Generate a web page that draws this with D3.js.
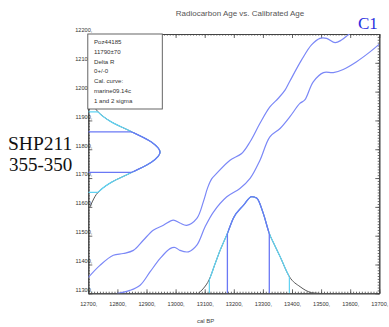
<!DOCTYPE html>
<html>
<head>
<meta charset="utf-8">
<script src="https://cdn.jsdelivr.net/npm/d3@7/dist/d3.min.js"></script>
<style>
  html, body { margin: 0; padding: 0; background: #fff; }
  svg { display: block; }
</style>
</head>
<body>
<svg id="chart" width="389" height="327"></svg>
<script>
// ---------- data ----------
const xTicks = [12700, 12800, 12900, 13000, 13100, 13200, 13300, 13400, 13500, 13600, 13700];
const yTicks = [11300, 11400, 11500, 11600, 11700, 11800, 11900, 12000, 12100, 12200];

// calibration curve, upper band edge (cal BP, 14C BP)
const upperCal = [12700, 12740, 12786, 12820, 12855, 12889, 12923, 12958, 12992, 13015, 13038, 13073, 13096, 13110, 13124, 13141, 13187, 13227, 13256, 13290, 13324, 13353, 13376, 13392, 13433, 13467, 13496, 13519, 13548, 13570, 13593, 13613];
const upperC14 = [11355, 11397, 11432, 11438, 11449, 11484, 11519, 11536, 11554, 11544, 11536, 11560, 11620, 11666, 11697, 11716, 11762, 11785, 11826, 11890, 11947, 11977, 12005, 12035, 12110, 12162, 12185, 12185, 12170, 12179, 12197, 12214];
// calibration curve, lower band edge
const lowerCal = [12798, 12843, 12878, 12912, 12947, 12981, 12998, 13015, 13044, 13073, 13101, 13130, 13176, 13221, 13256, 13290, 13324, 13359, 13393, 13427, 13444, 13473, 13508, 13542, 13576, 13622, 13668, 13700];
const lowerC14 = [11299, 11310, 11328, 11374, 11421, 11455, 11459, 11449, 11444, 11467, 11530, 11582, 11635, 11664, 11699, 11762, 11843, 11872, 11913, 11959, 11971, 12034, 12066, 12066, 12077, 12104, 12138, 12165];

// calibrated probability (relative) on the cal BP axis
const probCal = [13078, 13094, 13116, 13135, 13153, 13178, 13198, 13233, 13262, 13279, 13301, 13322, 13340, 13359, 13391, 13428, 13468, 13490];
const probVal = [0.0, 0.045, 0.145, 0.30, 0.445, 0.62, 0.775, 0.91, 1.0, 0.985, 0.83, 0.62, 0.5, 0.38, 0.172, 0.068, 0.006, 0.0];
const oneSigmaCal = [13178, 13322];
const twoSigmaCal = [13116, 13391];

// radiocarbon age distribution (relative) on the 14C axis
const ageC14 = [11600, 11620, 11650, 11685, 11720, 11755, 11790, 11825, 11860, 11895, 11930, 11960, 11990, 12020];
const ageVal = [0.025, 0.06, 0.135, 0.32, 0.61, 0.88, 1.0, 0.88, 0.61, 0.32, 0.135, 0.06, 0.02, 0.005];
const oneSigmaC14 = [11720, 11860];
const twoSigmaC14 = [11650, 11930];

const legendLines = ["Poz44185", "11790\u00b170", "Delta R", "0+/-0", "Cal. curve:", "marine09.14c", "1 and 2 sigma"];

// ---------- layout ----------
const svg = d3.select("#chart");
const L = 88.3, R = 379.3, T = 34, B = 293.3;
const x = d3.scaleLinear().domain([12700, 13700]).range([L, R]);
const y = d3.scaleLinear().domain([11300, 12200]).range([B, T]);
const pH = d3.scaleLinear().domain([0, 1]).range([0, 96.6]);   // prob height on x-axis
const aW = d3.scaleLinear().domain([0, 1]).range([0, 71.7]);   // age-dist width on y-axis

const blue = "#6a78f5", curveBlue = "#7b88f7", lightBlue = "#5fd3f3", gray = "#555";
const font = "'Liberation Sans', Arial, sans-serif";

svg.append("defs").append("clipPath").attr("id", "plot")
  .append("rect").attr("x", L).attr("y", T).attr("width", R - L).attr("height", B - T);

// title
svg.append("text").attr("x", 240).attr("y", 16).attr("text-anchor", "middle")
  .attr("font-family", font).attr("font-size", 8).attr("fill", "#555")
  .text("Radiocarbon Age vs. Calibrated Age");

// C1
svg.append("text").attr("x", 358).attr("y", 28.5)
  .attr("font-family", "'Liberation Serif', 'Times New Roman', serif").attr("font-size", 17)
  .attr("fill", "#2a2ee0").text("C1");

// sample label
svg.append("text").attr("x", 8).attr("y", 149.5)
  .attr("font-family", "'Liberation Serif', 'Times New Roman', serif").attr("font-size", 19.5)
  .attr("fill", "#111").text("SHP211");
svg.append("text").attr("x", 9).attr("y", 171)
  .attr("font-family", "'Liberation Serif', 'Times New Roman', serif").attr("font-size", 19)
  .attr("fill", "#111").text("355-350");

// x label
svg.append("text").attr("x", 197).attr("y", 322.5)
  .attr("font-family", font).attr("font-size", 6).attr("fill", "#444").text("cal BP");

// ---------- axes ----------
const minorX = d3.range(12700, 13701, 10);
const minorY = d3.range(11300, 12201, 10);
const axisColor = "#444";

function styleAxis(g) {
  g.select(".domain").attr("stroke", axisColor).attr("stroke-width", 1);
  g.selectAll(".tick line").attr("stroke", axisColor).attr("stroke-width", 0.8);
  g.selectAll(".tick text").attr("font-family", font).attr("font-size", 5.6).attr("fill", "#333");
}

// bottom
svg.append("g").attr("transform", `translate(0,${B})`)
  .call(d3.axisBottom(x).tickValues(minorX).tickSize(-1.6).tickFormat("").tickSizeOuter(0))
  .call(styleAxis);
svg.append("g").attr("transform", `translate(0,${B})`)
  .call(d3.axisBottom(x).tickValues(xTicks).tickSize(-4).tickPadding(9).tickFormat(d => d + ",").tickSizeOuter(0))
  .call(styleAxis);
// top
svg.append("g").attr("transform", `translate(0,${T})`)
  .call(d3.axisTop(x).tickValues(minorX).tickSize(-1.6).tickFormat("").tickSizeOuter(0)).call(styleAxis);
svg.append("g").attr("transform", `translate(0,${T})`)
  .call(d3.axisTop(x).tickValues(xTicks).tickSize(-4).tickFormat("").tickSizeOuter(0)).call(styleAxis);
// right
svg.append("g").attr("transform", `translate(${R},0)`)
  .call(d3.axisRight(y).tickValues(minorY).tickSize(-1.6).tickFormat("").tickSizeOuter(0)).call(styleAxis);
svg.append("g").attr("transform", `translate(${R},0)`)
  .call(d3.axisRight(y).tickValues(yTicks).tickSize(-4).tickFormat("").tickSizeOuter(0)).call(styleAxis);
// left
svg.append("g").attr("transform", `translate(${L},0)`)
  .call(d3.axisLeft(y).tickValues(minorY).tickSize(-1.6).tickFormat("").tickSizeOuter(0)).call(styleAxis);
const yAx = svg.append("g").attr("transform", `translate(${L},0)`)
  .call(d3.axisLeft(y).tickValues(yTicks).tickSize(-4).tickPadding(-4).tickFormat(d => d + ",").tickSizeOuter(0))
  .call(styleAxis);
yAx.selectAll(".tick text").attr("dy", "-0.4em");

// ---------- plot content ----------
const plot = svg.append("g").attr("clip-path", "url(#plot)");

// calibration band edges
const lineCal = d3.line().x(d => x(d[0])).y(d => y(d[1])).curve(d3.curveCatmullRom.alpha(0.5));
plot.append("path").datum(d3.zip(upperCal, upperC14)).attr("d", lineCal)
  .attr("fill", "none").attr("stroke", curveBlue).attr("stroke-width", 1.2);
plot.append("path").datum(d3.zip(lowerCal, lowerC14)).attr("d", lineCal)
  .attr("fill", "none").attr("stroke", curveBlue).attr("stroke-width", 1.2);

// calibrated distribution on the x axis
const probData = d3.zip(probCal, probVal);
const probLine = d3.line().x(d => x(d[0])).y(d => B - pH(d[1])).curve(d3.curveMonotoneX);
const defs = svg.select("defs");
defs.append("clipPath").attr("id", "p2").append("rect")
  .attr("x", x(twoSigmaCal[0])).attr("y", 0).attr("width", x(twoSigmaCal[1]) - x(twoSigmaCal[0])).attr("height", 400);
defs.append("clipPath").attr("id", "p1").append("rect")
  .attr("x", x(oneSigmaCal[0])).attr("y", 0).attr("width", x(oneSigmaCal[1]) - x(oneSigmaCal[0])).attr("height", 400);

plot.append("path").datum(probData).attr("d", probLine).attr("fill", "none").attr("stroke", gray).attr("stroke-width", 1);
plot.append("g").attr("clip-path", "url(#p2)").append("path").datum(probData).attr("d", probLine)
  .attr("fill", "none").attr("stroke", lightBlue).attr("stroke-width", 1.2);
plot.append("g").attr("clip-path", "url(#p1)").append("path").datum(probData).attr("d", probLine)
  .attr("fill", "none").attr("stroke", blue).attr("stroke-width", 1.3);

function probAt(c) { const i = probCal.indexOf(c); return probVal[i]; }
twoSigmaCal.forEach(c => plot.append("line").attr("x1", x(c)).attr("x2", x(c))
  .attr("y1", B).attr("y2", B - pH(probAt(c))).attr("stroke", lightBlue).attr("stroke-width", 1.2));
oneSigmaCal.forEach(c => plot.append("line").attr("x1", x(c)).attr("x2", x(c))
  .attr("y1", B).attr("y2", B - pH(probAt(c))).attr("stroke", blue).attr("stroke-width", 1.3));

// radiocarbon distribution on the y axis
const ageData = d3.zip(ageC14, ageVal);
const ageLine = d3.line().x(d => L + aW(d[1])).y(d => y(d[0])).curve(d3.curveMonotoneY);
defs.append("clipPath").attr("id", "a2").append("rect")
  .attr("x", 0).attr("y", y(twoSigmaC14[1])).attr("width", 400).attr("height", y(twoSigmaC14[0]) - y(twoSigmaC14[1]));
defs.append("clipPath").attr("id", "a1").append("rect")
  .attr("x", 0).attr("y", y(oneSigmaC14[1])).attr("width", 400).attr("height", y(oneSigmaC14[0]) - y(oneSigmaC14[1]));

plot.append("path").datum(ageData).attr("d", ageLine).attr("fill", "none").attr("stroke", gray).attr("stroke-width", 1);
plot.append("g").attr("clip-path", "url(#a2)").append("path").datum(ageData).attr("d", ageLine)
  .attr("fill", "none").attr("stroke", lightBlue).attr("stroke-width", 1.2);
plot.append("g").attr("clip-path", "url(#a1)").append("path").datum(ageData).attr("d", ageLine)
  .attr("fill", "none").attr("stroke", blue).attr("stroke-width", 1.3);

function ageAt(c) { const i = ageC14.indexOf(c); return ageVal[i]; }
twoSigmaC14.forEach(c => plot.append("line").attr("x1", L).attr("x2", L + aW(ageAt(c)))
  .attr("y1", y(c)).attr("y2", y(c)).attr("stroke", lightBlue).attr("stroke-width", 1.2));
oneSigmaC14.forEach(c => plot.append("line").attr("x1", L).attr("x2", L + aW(ageAt(c)))
  .attr("y1", y(c)).attr("y2", y(c)).attr("stroke", blue).attr("stroke-width", 1.3));

// ---------- legend box ----------
const lg = svg.append("g");
lg.append("rect").attr("x", 87.8).attr("y", T).attr("width", 74.5).attr("height", 75)
  .attr("fill", "#fff").attr("stroke", "#555").attr("stroke-width", 0.9);
lg.selectAll("text").data(legendLines).join("text")
  .attr("x", 94).attr("y", (d, i) => 44 + i * 9.8)
  .attr("font-family", font).attr("font-size", 6.1).attr("fill", "#333")
  .text(d => d);
</script>
</body>
</html>
